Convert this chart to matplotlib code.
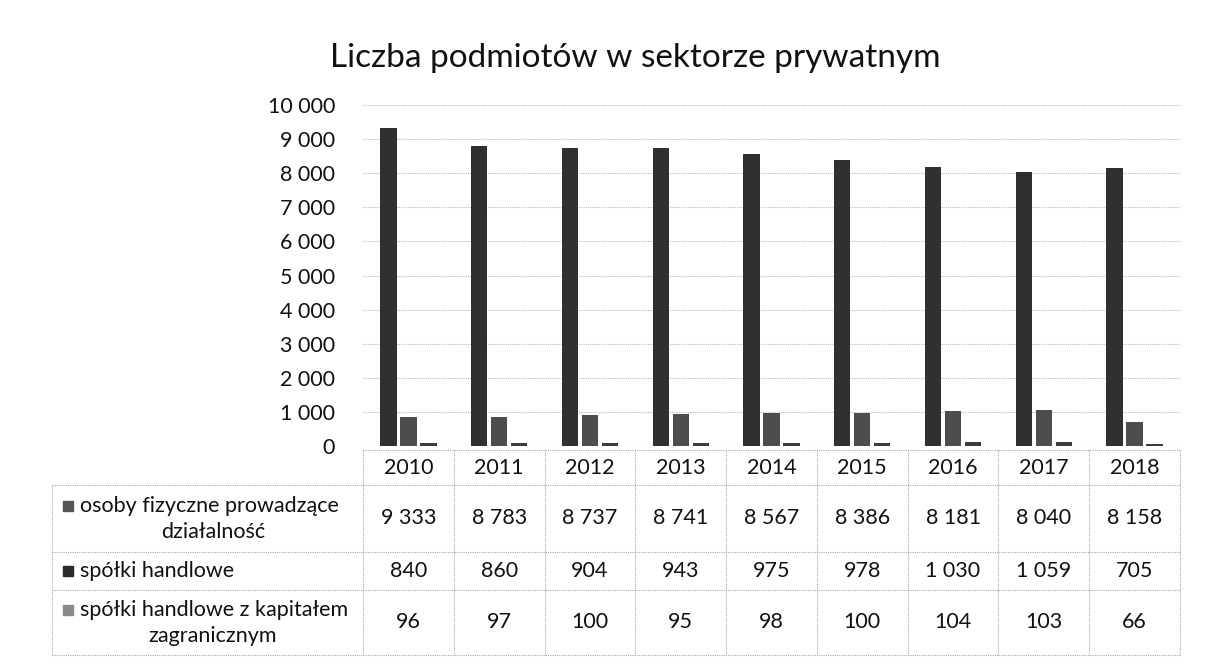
import matplotlib.pyplot as plt
import numpy as np
from matplotlib.patches import Rectangle

plt.rcParams['font.family'] = ['Lato', 'DejaVu Sans']

years = ['2010', '2011', '2012', '2013', '2014', '2015', '2016', '2017', '2018']
series_names = ['osoby fizyczne prowadzące\ndziałalność',
                'spółki handlowe',
                'spółki handlowe z kapitałem\nzagranicznym']
osoby = [9333, 8783, 8737, 8741, 8567, 8386, 8181, 8040, 8158]
spolki = [840, 860, 904, 943, 975, 978, 1030, 1059, 705]
spolki_zagr = [96, 97, 100, 95, 98, 100, 104, 103, 66]
y_ticks = [0, 1000, 2000, 3000, 4000, 5000, 6000, 7000, 8000, 9000, 10000]

series = [osoby, spolki, spolki_zagr]
bar_colors = ['#303030', '#4d4d4d', '#3c3c3c']
legend_colors = ['#555555', '#2a2a2a', '#8a8a8a']

W, H = 1209, 665
fig = plt.figure(figsize=(W / 100, H / 100), dpi=100)


def fx(px):
    return px / W


def fy(py):
    return 1 - py / H


# chart area
x0, x1 = 363, 1180
y0, y1 = 446, 105
ax = fig.add_axes([fx(x0), fy(y0), fx(x1) - fx(x0), fy(y1) - fy(y0)])
n = len(years)
x = np.arange(n)
bw = 0.18
for i, vals in enumerate(series):
    ax.bar(x + (i - 1) * (bw + 0.04), vals, width=bw, color=bar_colors[i], zorder=3)
ax.set_xlim(-0.5, n - 0.5)
ax.set_ylim(0, 10000)
ax.set_yticks(y_ticks)
ax.set_yticklabels([f'{v:,}'.replace(',', ' ') for v in y_ticks], fontsize=15.5, color='#111111')
ax.set_xticks([])
ax.tick_params(axis='y', length=0, pad=20)
for s in ax.spines.values():
    s.set_visible(False)
ax.grid(axis='y', color='#bbbbbb', linestyle=(0, (1, 1)), linewidth=0.8, zorder=0)

fig.text(fx(635), fy(58), 'Liczba podmiotów w sektorze prywatnym', fontsize=24,
         ha='center', va='center', color='#111111')

# data table
line_kw = dict(color='#aaaaaa', linestyle=(0, (1, 1)), linewidth=0.8)
col_w = (x1 - x0) / n
rows_y = [450, 485, 552, 590, 655]
lab_x = 52


def hline(xa, xb, yy):
    fig.add_artist(plt.Line2D([fx(xa), fx(xb)], [fy(yy), fy(yy)], transform=fig.transFigure, **line_kw))


def vline(xx, ya, yb):
    fig.add_artist(plt.Line2D([fx(xx), fx(xx)], [fy(ya), fy(yb)], transform=fig.transFigure, **line_kw))


hline(x0, x1, rows_y[0])
for yy in rows_y[1:]:
    hline(lab_x, x1, yy)
vline(lab_x, rows_y[1], rows_y[-1])
for k in range(n + 1):
    vline(x0 + k * col_w, rows_y[0], rows_y[-1])

fs = 15.5
for k, yr in enumerate(years):
    fig.text(fx(x0 + (k + 0.5) * col_w), fy((rows_y[0] + rows_y[1]) / 2), yr,
             fontsize=fs, ha='center', va='center', color='#111111')

for r, (name, vals) in enumerate(zip(series_names, series)):
    ya, yb = rows_y[r + 1], rows_y[r + 2]
    ym = (ya + yb) / 2
    for k, v in enumerate(vals):
        fig.text(fx(x0 + (k + 0.5) * col_w), fy(ym), f'{v:,}'.replace(',', ' '),
                 fontsize=fs, ha='center', va='center', color='#111111')
    lines = name.split('\n')
    if len(lines) == 2:
        first_y, second_y = ym - 13, ym + 13
    else:
        first_y = ym
    fig.add_artist(Rectangle((fx(63), fy(first_y + 5)), fx(10), fy(0) - fy(10),
                             transform=fig.transFigure, color=legend_colors[r]))
    fig.text(fx(80), fy(first_y), lines[0], fontsize=fs, ha='left', va='center', color='#111111')
    if len(lines) == 2:
        fig.text(fx(213), fy(second_y), lines[1], fontsize=fs, ha='center', va='center', color='#111111')

fig.savefig('out.png', dpi=100)
